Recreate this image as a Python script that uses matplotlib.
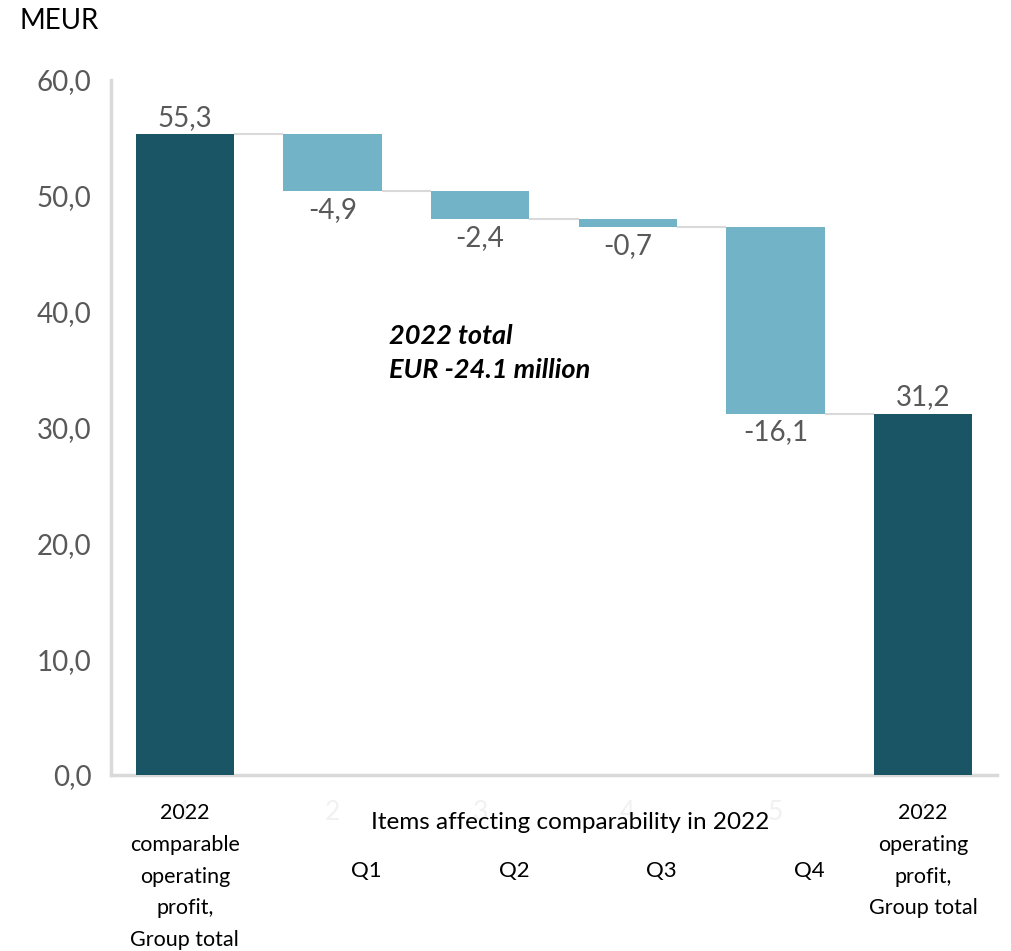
import matplotlib
matplotlib.use("Agg")
import matplotlib.pyplot as plt
import numpy as np

plt.rcParams['font.family'] = ['Lato', 'DejaVu Sans']

# Waterfall data (MEUR)
start_value = 55.3
changes = [-4.9, -2.4, -0.7, -16.1]
end_value = 31.2
quarters = ["Q1", "Q2", "Q3", "Q4"]
start_label = "2022\ncomparable\noperating\nprofit,\nGroup total"
end_label = "2022\noperating\nprofit,\nGroup total"
group_label = "Items affecting comparability in 2022"
slot_numbers = ["1", "2", "3", "4", "5", "6"]
y_ticks = [0, 10, 20, 30, 40, 50, 60]

dark = "#1a5566"
light = "#73b3c8"
text_grey = "#595959"
axis_grey = "#d9d9d9"

def fmt(v):
    return f"{v:.1f}".replace(".", ",")

fig = plt.figure(figsize=(10.12, 9.51), dpi=100)
ax = fig.add_axes([111 / 1012, 176 / 951, 886 / 1012, (775 - 80) / 951])

n = len(changes) + 2
x = np.arange(n)
width = 0.665

# Running levels for the floating bars
levels = [start_value]
for c in changes:
    levels.append(levels[-1] + c)

# Totals
ax.bar(x[0], start_value, width=width, color=dark, zorder=3)
ax.bar(x[-1], end_value, width=width, color=dark, zorder=3)

# Floating change bars
for i, c in enumerate(changes):
    ax.bar(x[i + 1], c, bottom=levels[i], width=width, color=light, zorder=3)

# Connector lines between consecutive bars
for i in range(n - 1):
    lvl = levels[i]
    ax.plot([x[i] + width / 2, x[i + 1] - width / 2], [lvl, lvl],
            color=axis_grey, lw=1.5, zorder=2, solid_capstyle="butt")

# Value labels
lab_kw = dict(color=text_grey, fontsize=20, ha="center")
ax.text(x[0], start_value + 0.3, fmt(start_value), va="bottom", **lab_kw)
ax.text(x[-1], end_value + 0.3, fmt(end_value), va="bottom", **lab_kw)
for i, c in enumerate(changes):
    ax.text(x[i + 1], levels[i + 1] - 0.5, fmt(c), va="top", **lab_kw)

ax.set_xlim(-0.5, n - 0.5)
ax.set_ylim(0, 60)
ax.set_yticks(y_ticks)
ax.set_yticklabels([fmt(v) for v in y_ticks], fontsize=20, color=text_grey)
ax.tick_params(axis="y", length=0, pad=14)

# Faint slot numbers as category tick labels
ax.set_xticks(x)
ax.set_xticklabels(slot_numbers, fontsize=19, color="#f1f1f1")
ax.tick_params(axis="x", length=0, pad=18)

for side in ["top", "right"]:
    ax.spines[side].set_visible(False)
for side in ["left", "bottom"]:
    ax.spines[side].set_color(axis_grey)
    ax.spines[side].set_linewidth(2.5)

# Category captions below the axis
trans = ax.get_xaxis_transform()
cap_kw = dict(fontsize=15.5, color="black", ha="center", va="top",
              linespacing=1.72, transform=trans)
ax.text(x[0], -0.041, start_label, **cap_kw)
ax.text(x[-1], -0.041, end_label, **cap_kw)
ax.text(2.61, -0.053, group_label, fontsize=17.5, color="black",
        ha="center", va="top", transform=trans)
for i, q in enumerate(quarters):
    ax.text(x[i + 1] + 0.23, -0.124, q, fontsize=16, color="black",
            ha="center", va="top", transform=trans)

# Annotation of the total
ax.text(1.38, 36.4, "2022 total\nEUR -24.1 million", fontsize=19.5,
        fontweight="bold", fontstyle="italic", color="black",
        ha="left", va="center", linespacing=1.5)

fig.text(20 / 1012, 1 - 21 / 951, "MEUR", fontsize=20, color="black",
         ha="left", va="center")

fig.savefig("out.png", dpi=100, facecolor="white")
